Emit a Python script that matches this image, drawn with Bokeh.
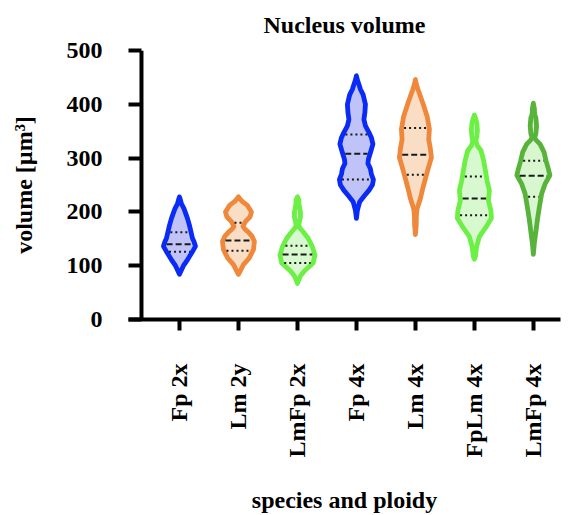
import numpy as np
from bokeh.plotting import figure
from bokeh.models import Range1d, FixedTicker, Span
from bokeh.embed import file_html
from bokeh.resources import INLINE

# ---------------- data ----------------
categories = ["Fp 2x", "Lm 2y", "LmFp 2x", "Fp 4x", "Lm 4x", "FpLm 4x", "LmFp 4x"]

# violin profiles: volume values and relative density (half-width)
fp2x_y = [84, 92, 100, 111, 123, 136, 145, 151, 163, 175, 188, 206, 215, 222, 228]
fp2x_d = [0, 2, 4, 8, 12, 16, 14.5, 13, 11.5, 10, 8, 4.5, 2, 1, 0]

lm2y_y = [84, 90, 102, 114, 130, 145, 155, 163, 168, 173, 182, 191, 200, 212, 219, 224, 228]
lm2y_d = [0, 1.7, 5, 10.7, 15, 16, 13.5, 9.7, 6.5, 4.5, 7, 11.7, 13, 9, 4, 1.5, 0]

lmfp2x_y = [67, 72, 81, 90, 105, 120, 135, 151, 163, 170, 176, 182, 190, 200, 210, 214, 222, 228]
lmfp2x_d = [0, 1, 3, 7, 15.7, 17.5, 15, 10.7, 5.7, 2.5, 1.2, 2, 3, 3, 2, 1.5, 1.5, 0]

fp4x_y = [188, 203, 219, 230, 240, 250, 260, 270, 280, 290, 298, 310, 326, 338, 348, 360, 372, 385, 400, 418, 428, 436, 445, 453]
fp4x_d = [0, 1, 3.3, 8, 12.5, 16, 17, 15, 14, 11.5, 12, 14, 16.5, 15, 12.5, 9, 7.5, 8.5, 9, 6.7, 4, 2.7, 1, 0]

lm4x_y = [158, 175, 194, 206, 225, 243, 262, 280, 301, 317, 335, 354, 378, 403, 427, 437, 446]
lm4x_d = [0, 0.8, 1, 1.7, 5, 7.3, 10, 12.7, 16, 15, 13.3, 14, 11.7, 7.3, 2.7, 1, 0]

fplm4x_y = [112, 117, 136, 154, 172, 188, 203, 221, 240, 258, 277, 295, 314, 323, 332, 340, 352, 365, 372, 380]
fplm4x_d = [0, 1, 2.3, 5, 11.7, 17, 16.5, 14, 15, 12.7, 11, 9.3, 6.7, 3, 1.5, 2.5, 3, 2.5, 1.5, 0]

lmfp4x_y = [121, 142, 160, 185, 209, 234, 252, 268, 280, 295, 311, 326, 333, 338, 345, 360, 375, 382, 392, 402]
lmfp4x_d = [0, 1, 2.3, 4, 6, 8.3, 11.7, 16.5, 15, 12.7, 10.7, 6.7, 3, 1.2, 2.5, 3.2, 2.5, 1.2, 1, 0]

q1_values = [126, 128, 105, 260, 269, 194, 228]
median_values = [140, 147, 121, 308, 306, 225, 267]
q3_values = [162, 180, 137, 344, 356, 266, 295]

y_ticks = [0, 100, 200, 300, 400, 500]

profiles_y = [fp2x_y, lm2y_y, lmfp2x_y, fp4x_y, lm4x_y, fplm4x_y, lmfp4x_y]
profiles_d = [fp2x_d, lm2y_d, lmfp2x_d, fp4x_d, lm4x_d, fplm4x_d, lmfp4x_d]

# ---------------- styles ----------------
line_colors = ["#0a2af5", "#f0883c", "#6cf046", "#0a2af5", "#f0883c", "#6cf046", "#57b33a"]
fill_colors = ["#bfc3f7", "#f9ddc4", "#d8f9cf", "#bfc3f7", "#f9ddc4", "#d8f9cf", "#d8f7cf"]
WIDTH_SCALE = 1.0 / 59.0   # density unit -> category units
FONT = "Liberation Serif"
FS = "24px"

p = figure(width=568, height=515, output_backend="svg", toolbar_location=None,
           x_range=Range1d(-0.864, 6.46), y_range=Range1d(0, 500),
           min_border_left=128, min_border_right=8, min_border_top=50,
           min_border_bottom=193)
p.outline_line_color = None
p.xgrid.grid_line_color = None
p.ygrid.grid_line_color = None
p.background_fill_color = "white"

p.title.text = "Nucleus volume"
p.title.align = "center"
p.title.vertical_align = "top"
p.title.text_font = FONT
p.title.text_font_size = FS
p.title.text_font_style = "bold"
p.title.text_color = "black"
p.title.standoff = 21

for i, (ys, ds) in enumerate(zip(profiles_y, profiles_d)):
    ys = np.array(ys, dtype=float)
    ds = np.array(ds, dtype=float) * WIDTH_SCALE
    xs = np.concatenate([i + ds, (i - ds)[::-1]])
    yy = np.concatenate([ys, ys[::-1]])
    p.patch(xs, yy, fill_color=fill_colors[i], line_color=line_colors[i],
            line_width=4.8, line_join="round")
    inset = 2.5 * WIDTH_SCALE
    for val, dash in ((q1_values[i], "2 3"), (median_values[i], "6 3"), (q3_values[i], "2 3")):
        hw = np.interp(val, ys, ds) - inset
        p.line([i - hw, i + hw], [val, val], line_color="#1a1a1a", line_width=2,
               line_dash=dash)

# y axis
p.yaxis.ticker = FixedTicker(ticks=y_ticks)
p.yaxis.axis_line_color = None
p.yaxis.major_tick_in = 13
p.yaxis.major_tick_out = 0
p.yaxis.major_tick_line_width = 4
p.yaxis.major_tick_line_color = "black"
p.yaxis.minor_tick_line_color = None
p.yaxis.major_label_standoff = 26
p.yaxis.axis_label = "volume [µm³]"
p.yaxis.axis_label_standoff = 27
p.add_layout(Span(location=-0.644, dimension="height", line_color="black", line_width=4))

# x axis
p.xaxis.ticker = FixedTicker(ticks=list(range(len(categories))))
p.xaxis.major_label_overrides = {i: c for i, c in enumerate(categories)}
p.xaxis.major_label_orientation = np.pi / 2
p.xaxis.axis_line_width = 4
p.xaxis.axis_line_color = "black"
p.xaxis.major_tick_in = 0
p.xaxis.major_tick_out = 11
p.xaxis.major_tick_line_width = 4
p.xaxis.minor_tick_line_color = None
p.xaxis.major_label_standoff = 33
p.xaxis.axis_label = "species and ploidy"
p.xaxis.axis_label_standoff = 26

for ax in (p.xaxis[0], p.yaxis[0]):
    ax.major_label_text_font = FONT
    ax.major_label_text_font_size = FS
    ax.major_label_text_font_style = "bold"
    ax.major_label_text_color = "black"
    ax.axis_label_text_font = FONT
    ax.axis_label_text_font_size = FS
    ax.axis_label_text_font_style = "bold"
    ax.axis_label_text_color = "black"

open("out.html", "w").write(file_html(p, INLINE))
